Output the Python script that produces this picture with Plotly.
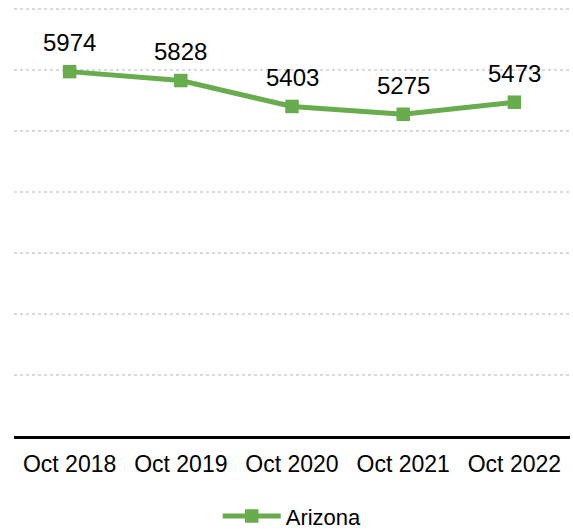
import plotly.graph_objects as go

# Yearly counts for Arizona
periods = ["Oct 2018", "Oct 2019", "Oct 2020", "Oct 2021", "Oct 2022"]
arizona = [5974, 5828, 5403, 5275, 5473]

green = "#68AC4D"
font_family = "Liberation Sans, Arial, sans-serif"

fig = go.Figure()
fig.add_trace(go.Scatter(
    x=periods,
    y=arizona,
    mode="lines+markers",
    name="Arizona",
    line=dict(color=green, width=5),
    marker=dict(symbol="square", size=13.5, color=green),
))

# Value labels above each point
for p, v in zip(periods, arizona):
    fig.add_annotation(
        x=p, y=v, text=str(v), showarrow=False,
        yshift=29, font=dict(size=24, color="#000000", family=font_family),
    )

fig.update_layout(
    width=573,
    height=531,
    margin=dict(l=14, r=3, t=6, b=95),
    paper_bgcolor="white",
    plot_bgcolor="white",
    font=dict(family=font_family, color="#000000", size=23),
    showlegend=True,
    legend=dict(
        orientation="h",
        x=0.51, xanchor="center",
        xref="container", yref="container",
        y=0.028, yanchor="middle",
        font=dict(size=22),
        itemwidth=58,
    ),
    xaxis=dict(
        type="category",
        range=[-0.5, 4.5],
        showline=True,
        linecolor="#000000",
        linewidth=3,
        showgrid=False,
        ticks="",
        ticklabelstandoff=5,
        tickfont=dict(size=23),
        zeroline=False,
        fixedrange=True,
    ),
    yaxis=dict(
        range=[0, 7050],
        tickvals=[1000, 2000, 3000, 4000, 5000, 6000, 7000],
        showticklabels=False,
        showgrid=True,
        gridcolor="#D9D9D9",
        griddash="dot",
        gridwidth=1.5,
        zeroline=False,
        showline=False,
        fixedrange=True,
    ),
)

fig.write_html("out.html")
